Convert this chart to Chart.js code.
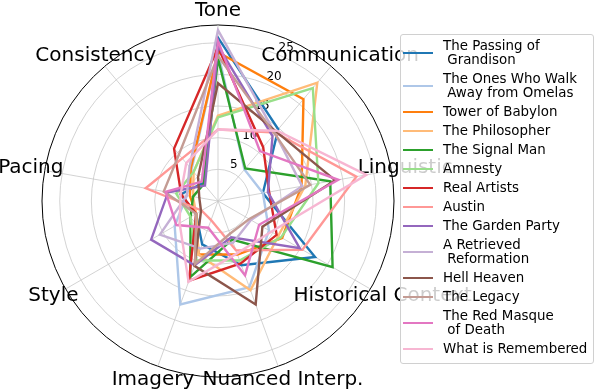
<!DOCTYPE html>
<html>
<head>
<meta charset="utf-8">
<script src="https://cdn.jsdelivr.net/npm/chart.js@4.4.1/dist/chart.umd.min.js"></script>
<style>
  html, body { margin: 0; padding: 0; background: #ffffff; }
  #wrap { position: relative; width: 596px; height: 390px; overflow: hidden; }
  #c { position: absolute; left: 0; top: 0; }
  #legend {
    position: absolute; left: 400px; top: 34px; width: 192px; height: 324px;
    background: rgba(255,255,255,0.8); border: 1px solid #d0d0d0; border-radius: 3px;
    padding-top: 4px; box-sizing: content-box;
    font-family: "DejaVu Sans", sans-serif; font-size: 13.4px; color: #000;
  }
  .item { display: flex; align-items: center; margin-bottom: 5px; }
  .sw { width: 30px; height: 2px; margin-left: 2px; margin-right: 10px; flex: none; }
  .tx { line-height: 14px; white-space: pre; }
</style>
</head>
<body>
<div id="wrap">
  <canvas id="c" width="596" height="390"></canvas>
  <div id="legend"></div>
</div>
<script>
// Axes (clockwise from top)
const axes = ["Tone", "Communication", "Linguistic", "Historical Context", "Nuanced Interp.", "Imagery", "Style", "Pacing", "Consistency"];

// Series names
const names = [
  "The Passing of\n Grandison",
  "The Ones Who Walk\n Away from Omelas",
  "Tower of Babylon",
  "The Philosopher",
  "The Signal Man",
  "Amnesty",
  "Real Artists",
  "Austin",
  "The Garden Party",
  "A Retrieved\n Reformation",
  "Hell Heaven",
  "The Legacy",
  "The Red Masque\n of Death",
  "What is Remembered"
];

const colors = ["#1f77b4", "#aec7e8", "#ff7f0e", "#ffbb78", "#2ca02c", "#98df8a", "#d62728", "#ff9896",
                "#9467bd", "#c5b0d5", "#8c564b", "#c49c94", "#e377c2", "#f7b6d2"];

// Values per series: Tone, Communication, Linguistic, Historical Context, Nuanced Interp., Imagery, Style, Pacing, Consistency
const grandison   = [25.8, 14.8,  7.2, 17.7, 10.8,  7.3,  4.0,  6.0,  3.7];
const omelas      = [23.5,  6.5,  7.2,  9.3, 14.5, 17.4,  7.9,  5.0,  6.5];
const babylon     = [23.5, 21.0, 13.4, 11.7,  9.0,  9.0,  4.0,  4.5,  6.7];
const philosopher = [13.5, 24.4, 14.0, 11.0, 15.0,  9.0,  4.0,  4.0,  6.0];
const signalMan   = [22.5,  6.7, 18.0, 20.9,  6.5, 12.8,  5.0,  4.0,  3.5];
const amnesty     = [13.2, 23.3, 16.1, 11.5, 10.0, 10.0,  5.0,  6.7,  6.0];
const realArtists = [24.3, 11.1,  8.2, 10.7, 10.5, 13.4,  4.0,  5.9, 10.8];
const austin      = [11.3, 14.1, 22.2, 15.4,  8.3,  3.2,  3.0, 11.6,  8.8];
const gardenParty = [24.5, 13.4,  8.0, 14.9,  6.1, 10.8, 12.2,  8.0,  3.2];
const retrieved   = [27.0, 14.0, 13.5,  6.0,  7.0,  8.0, 10.6,  5.0,  7.0];
const hellHeaven  = [18.6, 14.3, 18.8,  8.1, 17.4, 10.9,  3.1,  3.0,  4.9];
const legacy      = [22.9, 13.9, 14.8,  5.7,  5.5, 10.6,  4.0,  8.7,  9.6];
const redMasque   = [25.3, 10.3, 19.3,  7.5, 12.5,  4.5,  7.6,  8.4,  4.0];
const remembered  = [11.3, 14.5, 23.8,  9.7,  8.8, 13.6,  7.0,  6.0,  7.8];

const seriesValues = [grandison, omelas, babylon, philosopher, signalMan, amnesty, realArtists, austin,
                      gardenParty, retrieved, hellHeaven, legacy, redMasque, remembered];

const tickValues = [5, 10, 15, 20, 25];
const rMax = 27.8;

const FONT = '"DejaVu Sans", sans-serif';

const overlay = {
  id: 'overlayText',
  beforeDatasetsDraw(chart) {
    const s = chart.scales.r;
    const ctx = chart.ctx;
    ctx.save();
    ctx.fillStyle = '#000';
    ctx.font = '12px ' + FONT;
    ctx.textAlign = 'left';
    ctx.textBaseline = 'middle';
    tickValues.forEach(v => {
      const d = s.getDistanceFromCenterForValue(v);
      const p = s.getPointPosition(0, d, Math.PI / 8);
      ctx.fillText(String(v), p.x, p.y - 7);
    });
    ctx.font = '20px ' + FONT;
    ctx.textAlign = 'center';
    ctx.textBaseline = 'middle';
    axes.forEach((a, i) => {
      const p = s.getPointPosition(i, s.drawingArea * 1.08);
      ctx.fillText(a, p.x, p.y);
    });
    ctx.restore();
  }
};

const datasets = seriesValues.map((vals, i) => ({
  label: names[i].replace(/\n\s*/g, ' '),
  data: vals,
  borderColor: colors[i],
  backgroundColor: colors[i],
  borderWidth: 2.4,
  fill: false,
  pointRadius: 0,
  pointHoverRadius: 0,
  tension: 0,
  order: seriesValues.length - i
}));

new Chart(document.getElementById('c'), {
  type: 'radar',
  data: { labels: axes, datasets },
  options: {
    responsive: false,
    animation: false,
    events: [],
    layout: { padding: { left: 42, top: 25, right: 201, bottom: 12 } },
    plugins: { legend: { display: false }, tooltip: { enabled: false } },
    scales: {
      r: {
        min: 0,
        max: rMax,
        ticks: { display: false, stepSize: 5 },
        pointLabels: { display: false },
        grid: {
          circular: true,
          color: c => (c.tick && c.tick.value >= rMax - 1e-6) ? '#000000' : '#c8c8c8',
          lineWidth: c => (c.tick && c.tick.value >= rMax - 1e-6) ? 1 : 0.8
        },
        angleLines: { color: '#c8c8c8', lineWidth: 0.8 }
      }
    }
  },
  plugins: [overlay]
});

const leg = document.getElementById('legend');
names.forEach((n, i) => {
  const it = document.createElement('div');
  it.className = 'item';
  const sw = document.createElement('div');
  sw.className = 'sw';
  sw.style.background = colors[i];
  const tx = document.createElement('div');
  tx.className = 'tx';
  tx.textContent = n;
  it.appendChild(sw);
  it.appendChild(tx);
  leg.appendChild(it);
});
</script>
</body>
</html>
